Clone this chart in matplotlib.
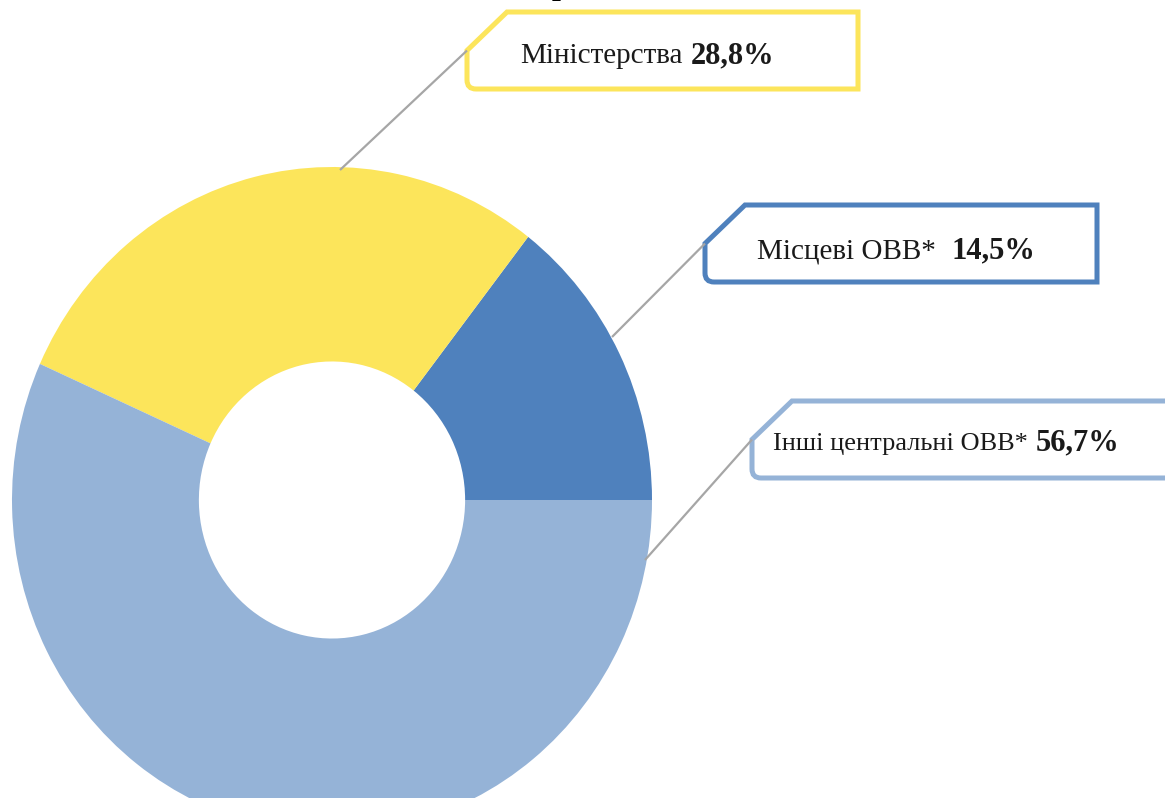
import matplotlib.pyplot as plt
from matplotlib.path import Path
from matplotlib.patches import PathPatch

# shares, %
labels = ["Місцеві ОВВ*", "Міністерства", "Інші центральні ОВВ*"]
values = [14.5, 28.8, 56.7]
value_text = ["14,5%", "28,8%", "56,7%"]
colors = ["#4F81BD", "#FCE55B", "#95B3D7"]

W, H = 1165, 798
fig = plt.figure(figsize=(W / 100, H / 100), dpi=100)

# donut (slightly stretched vertically, as in the source picture)
ax = fig.add_axes([12 / W, (H - 833) / H, 640 / W, 666 / H])
ax.pie(values, colors=colors, startangle=0, counterclock=True,
       wedgeprops=dict(width=0.584, linewidth=0))
ax.set_aspect("auto")
ax.set_xlim(-1, 1)
ax.set_ylim(-1, 1)
ax.axis("off")

# overlay in pixel coordinates for callouts
ov = fig.add_axes([0, 0, 1, 1])
ov.set_xlim(0, W)
ov.set_ylim(H, 0)
ov.axis("off")
ov.patch.set_alpha(0)


def callout(x0, y0, x1, y1, color, chamfer=40, r=9):
    ym = (y0 + y1) / 2
    verts = [(x0, ym), (x0 + chamfer, y0), (x1, y0), (x1, y1), (x0 + r, y1),
             (x0, y1), (x0, y1 - r), (x0, ym)]
    codes = [Path.MOVETO, Path.LINETO, Path.LINETO, Path.LINETO, Path.LINETO,
             Path.CURVE3, Path.CURVE3, Path.CLOSEPOLY]
    ov.add_patch(PathPatch(Path(verts, codes), facecolor="white",
                           edgecolor=color, linewidth=3.6, clip_on=False))


# boxes: (box, leader line start on ring, text x, gap to value, baseline, size)
boxes = [
    ((705, 205, 1097, 282), (612, 337), 757, 16, 258, 21),
    ((467, 12, 858, 89), (340, 170), 520, 8, 63, 21),
    ((752, 401, 1180, 478), (645, 560), 773, 8, 450, 19),
]

for (box, start, tx, gap, base, fs), lab, vt, col in zip(boxes, labels, value_text, colors):
    x0, y0, x1, y1 = box
    ov.plot([start[0], x0], [start[1], (y0 + y1) / 2], color="#A6A6A6", lw=1.6,
            solid_capstyle="butt")
    callout(x0, y0, x1, y1, col)
    t = ov.text(tx, base, lab, family="Liberation Serif", fontsize=fs,
                va="baseline", ha="left", color="#1a1a1a")
    ov.annotate(vt, xy=(1, base), xycoords=(t, "data"), xytext=(gap, 0),
                textcoords="offset pixels", family="Liberation Serif",
                fontsize=22, fontweight="bold", va="baseline", ha="left",
                color="#1a1a1a", annotation_clip=False)

# cropped title at the very top (only descenders remain visible)
ov.text(552, -6, "рівні,", family="Liberation Serif", fontsize=23,
        fontweight="bold", va="baseline", ha="left", color="black", clip_on=False)

fig.savefig("out.png", dpi=100)
